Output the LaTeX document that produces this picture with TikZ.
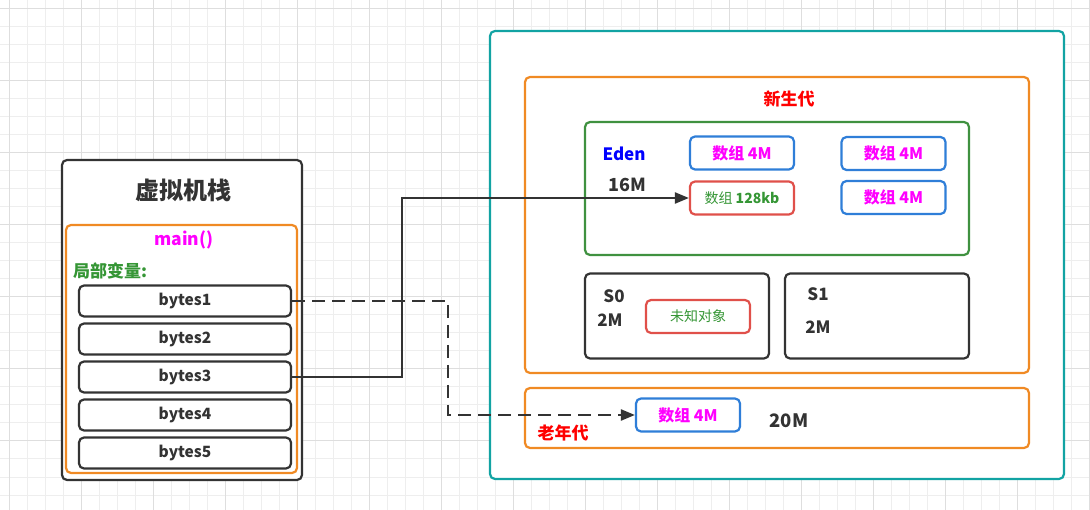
\documentclass[tikz,border=0pt]{standalone}
\usepackage{fontspec}
\setmainfont{Noto Sans CJK SC}
\usetikzlibrary{arrows.meta}
\definecolor{dark}{HTML}{333333}
\definecolor{gridmin}{HTML}{EEEEEE}
\definecolor{gridmaj}{HTML}{DEDEDE}
\definecolor{teal}{HTML}{12A3A3}
\definecolor{orng}{HTML}{F08A24}
\definecolor{grn}{HTML}{3F9140}
\definecolor{txtgrn}{HTML}{359635}
\definecolor{blu}{HTML}{2F7ED8}
\definecolor{rd}{HTML}{E0504A}
\definecolor{mag}{HTML}{FF00FF}
\definecolor{txtred}{HTML}{FF0000}
\definecolor{txtblu}{HTML}{0000FF}
\begin{document}
\begin{tikzpicture}[x=1pt,y=-1pt,
  frame/.style={draw=#1, line width=2.2pt, rounded corners=5pt, inner sep=0pt},
  varbox/.style={frame=dark, minimum width=212pt, minimum height=31pt, font=\fontsize{15.5}{15.5}\selectfont\bfseries, text=dark},
  arrbox/.style={frame=blu, minimum width=104pt, minimum height=33pt, font=\fontsize{16}{16}\selectfont\bfseries, text=mag},
  lbl/.style={inner sep=0pt, font=\fontsize{17}{17}\selectfont\bfseries, text=dark},
  conn/.style={draw=dark, line width=2.2pt, -{Triangle[length=14pt,width=11pt]}},
]
\useasboundingbox (0,0) rectangle (1090,510);
\fill[white] (0,0) rectangle (1090,510);
\foreach \i in {0,...,60} {\draw[gridmin, line width=1pt] (9+18*\i,0) -- (9+18*\i,510);}
\foreach \i in {0,...,28} {\draw[gridmin, line width=1pt] (0,9+18*\i) -- (1090,9+18*\i);}
\foreach \i in {0,...,15} {\draw[gridmaj, line width=1pt] (9+72*\i,0) -- (9+72*\i,510);}
\foreach \i in {0,...,7} {\draw[gridmaj, line width=1pt] (0,9+72*\i) -- (1090,9+72*\i);}

% virtual machine stack
\node[frame=dark, fill=white, minimum width=240pt, minimum height=320pt] (stack) at (182,320) {};
\node[lbl, font=\fontsize{24}{24}\selectfont\bfseries] (stitle) at (183,190) {虚拟机栈};
\node[frame=orng, minimum width=231pt, minimum height=248pt] (mainbox) at (181.5,349) {};
\node[lbl, text=mag, font=\fontsize{17.5}{17.5}\selectfont\bfseries] (maintxt) at (184,240) {main()};
\node[lbl, text=txtgrn, anchor=west] (localtxt) at (73,271) {局部变量:};
\node[varbox] (b1) at (185,301) {bytes1};
\node[varbox] (b2) at (185,339) {bytes2};
\node[varbox] (b3) at (185,377) {bytes3};
\node[varbox] (b4) at (185,415) {bytes4};
\node[varbox] (b5) at (185,453) {bytes5};

% heap
\node[frame=teal, fill=white, minimum width=574pt, minimum height=448pt] (heap) at (777,255) {};
\node[frame=orng, minimum width=504pt, minimum height=296pt] (young) at (777,225) {};
\node[lbl, text=txtred] (youngtxt) at (789,99) {新生代};
\node[frame=grn, minimum width=384pt, minimum height=133pt] (eden) at (777,188.5) {};
\node[lbl, text=txtblu] (edentxt) at (624,154) {Eden};
\node[lbl, font=\fontsize{18}{18}\selectfont\bfseries] (edensize) at (627,185) {16M};
\node[arrbox] (a1) at (742,153) {数组 4M};
\node[arrbox] (a2) at (893.5,153.5) {数组 4M};
\node[arrbox] (a3) at (893.5,197.5) {数组 4M};
\node[frame=rd, minimum width=104pt, minimum height=33pt, text=txtgrn, font=\fontsize{14}{14}\selectfont] (a128) at (742,198) {数组 \textbf{128kb}};

\node[frame=dark, minimum width=184pt, minimum height=85pt] (s0) at (677,316) {};
\node[lbl] (s0txt) at (614,296) {S0};
\node[lbl] (s0size) at (610,320) {2M};
\node[frame=rd, minimum width=104pt, minimum height=33pt, text=txtgrn, font=\fontsize{14}{14}\selectfont] (unk) at (698,316.5) {未知对象};
\node[frame=dark, minimum width=184pt, minimum height=85pt] (s1) at (877,316) {};
\node[lbl] (s1txt) at (818,294) {S1};
\node[lbl] (s1size) at (818,327) {2M};

\node[frame=orng, minimum width=504pt, minimum height=60pt] (old) at (777,418) {};
\node[lbl, text=txtred] (oldtxt) at (563,433) {老年代};
\node[arrbox] (aold) at (688,415) {数组 4M};
\node[lbl, font=\fontsize{18.5}{18.5}\selectfont\bfseries] (oldsize) at (789,421) {20M};

% connectors
\draw[conn] (b3.east) -- ++(110,0) |- (a128.west);
\draw[conn, dash pattern=on 13pt off 7pt] (b1.east) -- ++(156,0) |- (aold.west);
\end{tikzpicture}
\end{document}
